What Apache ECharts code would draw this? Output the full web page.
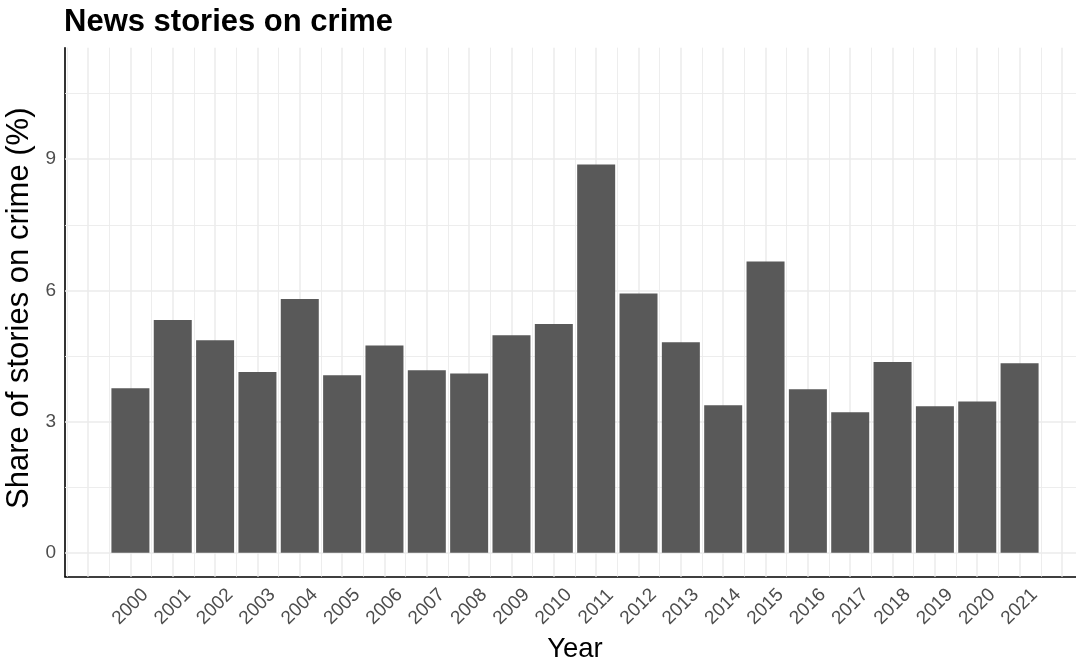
<!DOCTYPE html>
<html>
<head>
<meta charset="utf-8">
<script src="https://cdn.jsdelivr.net/npm/echarts@6/dist/echarts.min.js"></script>
<style>
html,body{margin:0;padding:0;background:#fff;}
#chart{width:1076px;height:659px;}
</style>
</head>
<body>
<div id="chart"></div>
<script>
const years = [2000,2001,2002,2003,2004,2005,2006,2007,2008,2009,2010,2011,2012,2013,2014,2015,2016,2017,2018,2019,2020,2021];
const shares = [3.76,5.32,4.86,4.13,5.80,4.06,4.74,4.17,4.10,4.97,5.23,8.88,5.93,4.81,3.37,6.66,3.74,3.21,4.36,3.35,3.46,4.33];
const yTickLabels = [0,3,6,9];
const yMinorGrid = [1.5,4.5,7.5,10.5];
const xMajorGrid = [1999,2000,2001,2002,2003,2004,2005,2006,2007,2008,2009,2010,2011,2012,2013,2014,2015,2016,2017,2018,2019,2020,2021,2022];
const xMinorGrid = [1998.5,1999.5,2000.5,2001.5,2002.5,2003.5,2004.5,2005.5,2006.5,2007.5,2008.5,2009.5,2010.5,2011.5,2012.5,2013.5,2014.5,2015.5,2016.5,2017.5,2018.5,2019.5,2020.5,2021.5,2022.5];

const FONT = "'Liberation Sans', Arial, Helvetica, sans-serif";
const chart = echarts.init(document.getElementById('chart'), null, {renderer:'canvas'});

const minorStyle = {color:'#EBEBEB', width:0.9, type:'solid'};
const majorStyle = {color:'#EBEBEB', width:1.5, type:'solid'};
const gridLines = [];
xMinorGrid.forEach(v => gridLines.push({xAxis:v, lineStyle:minorStyle}));
xMajorGrid.forEach(v => gridLines.push({xAxis:v, lineStyle:majorStyle}));
yMinorGrid.forEach(v => gridLines.push({yAxis:v, lineStyle:minorStyle}));
yTickLabels.forEach(v => gridLines.push({yAxis:v, lineStyle:majorStyle}));

chart.setOption({
  animation:false,
  backgroundColor:'#ffffff',
  title:{
    text:'News stories on crime',
    left:64, top:7, padding:0,
    textStyle:{fontFamily:FONT, fontWeight:'bold', fontSize:31, color:'#000'}
  },
  grid:{left:65, right:-9, top:47.7, bottom:82.3, containLabel:false, outerBoundsMode:'none'},
  xAxis:{
    type:'value',
    min:1998.455, max:2022.545,
    splitLine:{show:false},
    axisTick:{show:false},
    axisLine:{show:true, onZero:false, lineStyle:{color:'#000', width:1.6}},
    axisLabel:{
      customValues:years,
      rotate:45, align:'center', verticalAlign:'middle', margin:30,
      fontFamily:FONT, fontSize:19, color:'#4D4D4D',
      formatter: v => String(v)
    },
    name:'Year', nameLocation:'middle', nameGap:51,
    nameTextStyle:{fontFamily:FONT, fontSize:27.5, color:'#000'}
  },
  yAxis:{
    type:'value',
    min:-0.55, max:11.55,
    splitLine:{show:false},
    axisTick:{show:false},
    axisLine:{show:true, onZero:false, lineStyle:{color:'#000', width:1.6}},
    axisLabel:{
      customValues:yTickLabels,
      margin:9, fontFamily:FONT, fontSize:19, color:'#4D4D4D',
      formatter: v => String(v)
    },
    name:'Share of stories on crime (%)', nameLocation:'middle', nameGap:23,
    nameTextStyle:{fontFamily:FONT, fontSize:31, color:'#000', padding:[0,0,0,8]}
  },
  series:[{
    type:'bar',
    z:3,
    barWidth:38,
    itemStyle:{color:'#595959'},
    data: years.map((y,i) => [y, shares[i]]),
    markLine:{
      silent:true, z:1, symbol:['none','none'],
      label:{show:false},
      emphasis:{disabled:true},
      data:gridLines
    }
  }]
});
</script>
</body>
</html>
